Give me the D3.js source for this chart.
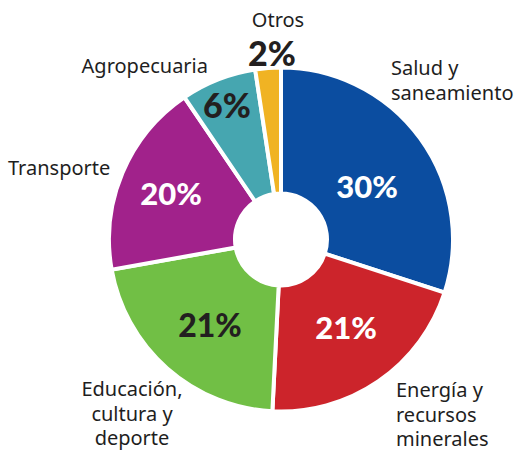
<!DOCTYPE html>
<html>
<head>
<meta charset="utf-8">
<script src="https://cdn.jsdelivr.net/npm/d3@7"></script>
<style>
  body { margin: 0; background: #fff; }
</style>
</head>
<body>
<div id="chart"></div>
<script>
// sectors, clockwise from 12 o'clock (shares)
var sectors = ["Salud y saneamiento", "Energía y recursos minerales", "Educación, cultura y deporte",
               "Transporte", "Agropecuaria", "Otros"]
var shares = [30, 20.8, 21.4, 18.3, 7.1, 2.4]
var pctLabels = ["30%", "21%", "21%", "20%", "6%", "2%"]
var colors = ["#0b4da0", "#cc242b", "#71bf45", "#a1228b", "#46a6b0", "#f0b323"]

var width = 520, height = 452
var cx = 281, cy = 239.5

var svg = d3.select("#chart")
    .append("svg")
    .attr("width", width)
    .attr("height", height)

var g = svg.append("g")
    .attr("transform", `translate(${cx},${cy})`)

var pie = d3.pie().sort(null).value(function(d) { return d })
var arcs = pie(shares)

var arc = d3.arc().innerRadius(46).outerRadius(172)

g.selectAll("path")
    .data(arcs)
    .enter().append("path")
    .attr("d", arc)
    .style("fill", function(d, i) { return colors[i] })
    .style("stroke", "#fff")
    .style("stroke-width", 4)
    .style("stroke-linejoin", "miter")

// percentage labels (offsets from centre)
var pctPos = [[86, -42], [65, 99], [-71, 97], [-110, -35], [-54, -122], [-9, -174]]
var pctSize = [31, 31, 32, 31, 34, 34]
var pctFill = ["#fff", "#fff", "#231f20", "#fff", "#231f20", "#231f20"]

g.selectAll("text.pct")
    .data(pctLabels)
    .enter().append("text")
    .attr("class", "pct")
    .attr("x", function(d, i) { return pctPos[i][0] })
    .attr("y", function(d, i) { return pctPos[i][1] })
    .attr("text-anchor", "middle")
    .style("font-family", "Lato, sans-serif")
    .style("font-weight", "900")
    .style("font-size", function(d, i) { return pctSize[i] + "px" })
    .style("fill", function(d, i) { return pctFill[i] })
    .text(function(d) { return d })

// category labels, one line per row
var catLines = [
    ["Salud y", "saneamiento"],
    ["Energía y", "recursos", "minerales"],
    ["Educación,", "cultura y", "deporte"],
    ["Transporte"],
    ["Agropecuaria"],
    ["Otros"]
]
var catPos = [[391, 75, "start"], [396, 397, "start"], [132, 396, "middle"],
              [8, 175, "start"], [208, 73, "end"], [278, 27, "middle"]]

catLines.forEach(function(lines, i) {
    var t = svg.append("text")
        .attr("x", catPos[i][0])
        .attr("y", catPos[i][1])
        .attr("text-anchor", catPos[i][2])
        .style("font-family", "'Noto Sans', sans-serif")
        .style("font-size", "20px")
        .style("fill", "#1e1e1e")
    lines.forEach(function(line, j) {
        t.append("tspan")
            .attr("x", catPos[i][0])
            .attr("dy", j == 0 ? 0 : 24.5)
            .text(line)
    })
})
</script>
</body>
</html>
